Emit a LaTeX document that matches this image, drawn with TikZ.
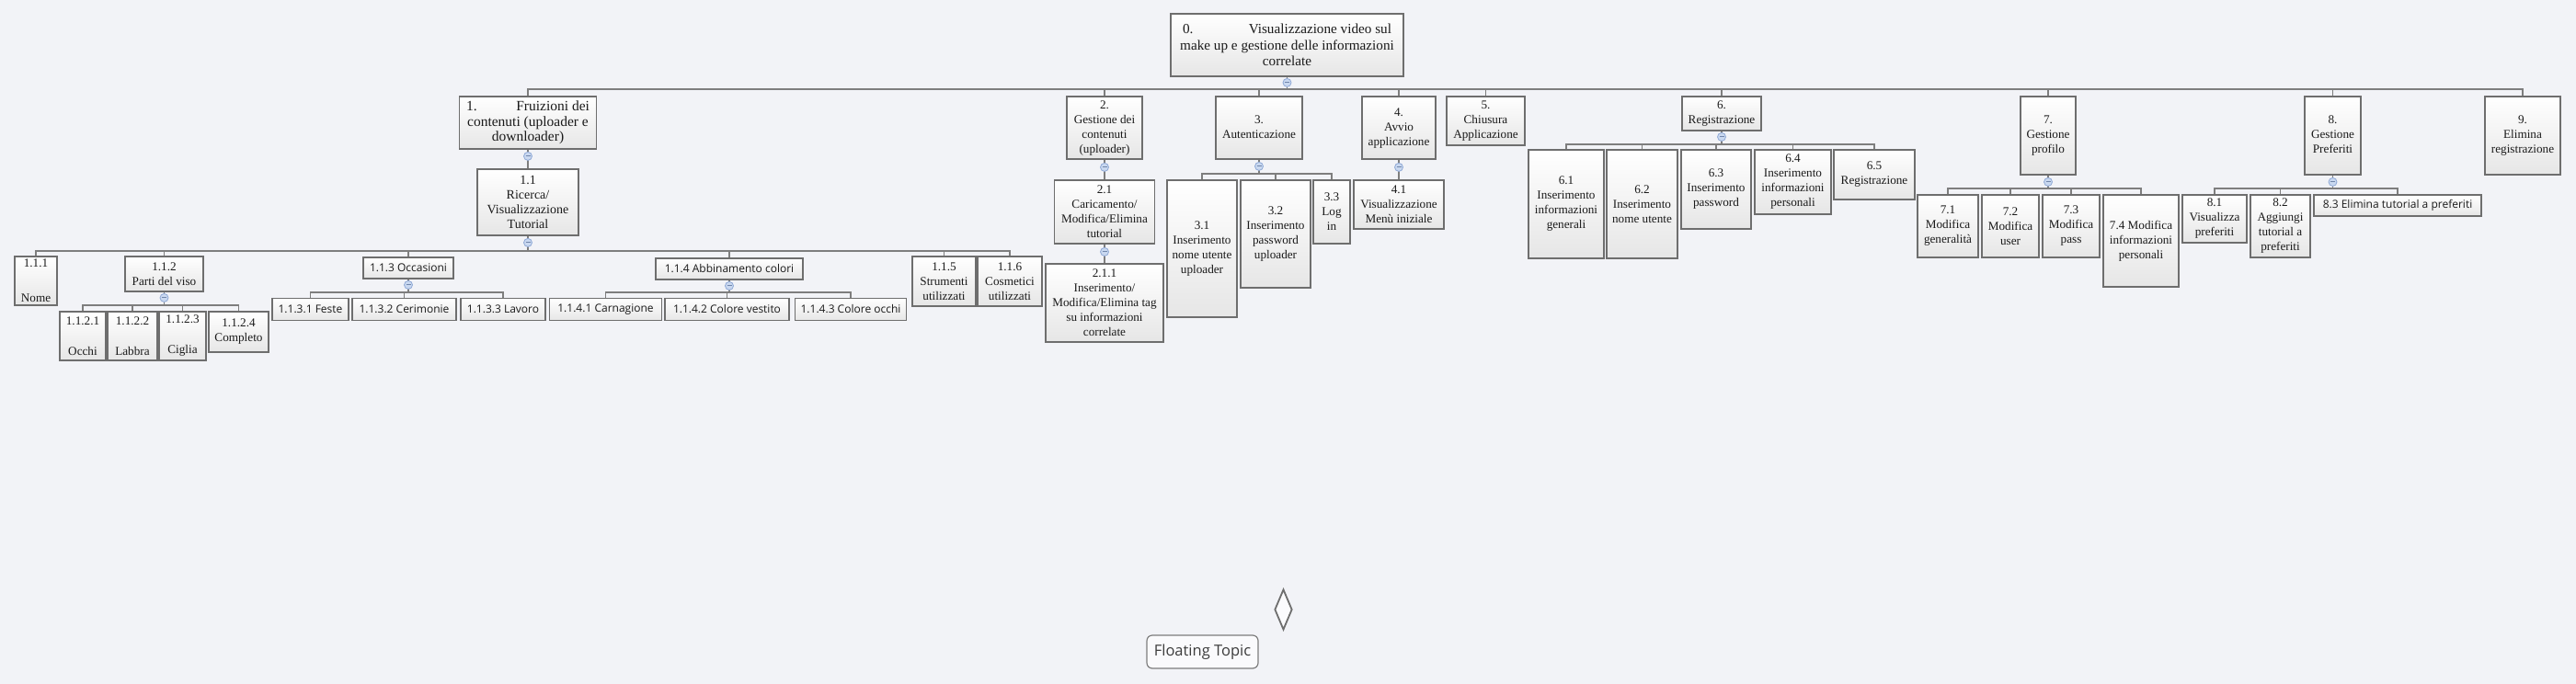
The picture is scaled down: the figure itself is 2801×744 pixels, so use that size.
\documentclass[tikz,border=0pt]{standalone}
\usepackage{fontspec}
\setmainfont{Liberation Serif}
\newfontfamily\sansf{Open Sans}
\usetikzlibrary{shapes.geometric}
\definecolor{bgc}{HTML}{F2F3F7}
\definecolor{bordc}{HTML}{6E6E6E}
\definecolor{connc}{HTML}{7E7E7E}
\definecolor{boxbot}{HTML}{E6E6E6}
\definecolor{txtc}{HTML}{1A1A1A}
\definecolor{btnfill}{HTML}{C9D8F0}
\definecolor{btndraw}{HTML}{8FA9D6}
\newcommand{\fstop}{\fontsize{15.2}{17.5}\selectfont}
\newcommand{\fsone}{\fontsize{15.5}{16.5}\selectfont}
\newcommand{\fsoo}{\fontsize{14}{16}\selectfont}
\newcommand{\fsm}{\fontsize{13.2}{16}\selectfont}
\newcommand{\fss}{\fontsize{12}{14}\selectfont\sansf}
\newcommand{\fsfl}{\fontsize{16.5}{18}\selectfont\sansf}
\newcommand{\dn}[2]{\raisebox{-#1}{\begin{tabular}{@{}c@{}}#2\end{tabular}}}
\newcommand{\colps}[2]{%
  \path (#1.south) ++(0,#2) coordinate (cb#1);
  \draw[btn] (cb#1) circle (4.5);
  \draw[btnminus] (cb#1) ++(-2.5,0) -- ++(5,0);}
\tikzset{
  box/.style={draw=bordc, line width=1.8pt, top color=white, bottom color=boxbot,
    align=center, inner sep=1pt, text=txtc, font=\fsm},
  sbox/.style={box, font=\fss},
  conn/.style={draw=connc, line width=1.8pt},
  btn/.style={draw=btndraw, fill=btnfill, line width=0.8pt},
  btnminus/.style={draw=btndraw!80!black, line width=0.9pt},
  floatbox/.style={draw=bordc!90, line width=1.2pt, fill=white!60!bgc, rounded corners=6pt,
    font=\fsfl, text=txtc!85, inner sep=0pt},
  dia/.style={diamond, draw=bordc, fill=white!70!bgc, line width=1.8pt, inner sep=0pt}
}
\begin{document}
\begin{tikzpicture}[x=1pt,y=-1pt]
\useasboundingbox (0,0) rectangle (2801,744);
\fill[bgc] (0,0) rectangle (2801,744);

% ---------- nodes ----------
\node[box, minimum width=253pt, minimum height=68pt, font=\fstop] (n0) at (1399.5,49)
  {\makebox[227pt]{0.\hfill Visualizzazione video sul}\\make up e gestione delle informazioni\\correlate};

\node[box, minimum width=149pt, minimum height=57pt, font=\fsone] (n1) at (574,133.5)
  {\makebox[134pt]{1.\hfill Fruizioni dei}\\contenuti (uploader e\\downloader)};
\node[box, minimum width=110pt, minimum height=72pt, font=\fsoo] (n11) at (574,220)
  {1.1\\Ricerca/\\Visualizzazione\\Tutorial};

\node[box, minimum width=46pt, minimum height=53pt] (n111) at (39,305.5) {1.1.1\\[22pt]Nome};
\node[box, minimum width=85pt, minimum height=38pt] (n112) at (178.5,298) {1.1.2\\Parti del viso};
\node[box, minimum width=50pt, minimum height=53pt] (n1121) at (90,365.5) {1.1.2.1\\[17pt]Occhi};
\node[box, minimum width=54pt, minimum height=53pt] (n1122) at (144,365.5) {1.1.2.2\\[17pt]Labbra};
\node[box, minimum width=51pt, minimum height=53pt] (n1123) at (198.5,365.5) {1.1.2.3\\[17pt]Ciglia};
\node[box, minimum width=65pt, minimum height=44pt] (n1124) at (259.5,361) {1.1.2.4\\Completo};

\node[sbox, minimum width=98pt, minimum height=23pt] (n113) at (444,291.5) {1.1.3 Occasioni};
\node[sbox, minimum width=83pt, minimum height=24pt] (n1131) at (337.5,336.5) {1.1.3.1 Feste};
\node[sbox, minimum width=113pt, minimum height=24pt] (n1132) at (439.5,336.5) {1.1.3.2 Cerimonie};
\node[sbox, minimum width=92pt, minimum height=24pt] (n1133) at (547,336.5) {1.1.3.3 Lavoro};

\node[sbox, minimum width=160pt, minimum height=23pt] (n114) at (793,292.5) {1.1.4 Abbinamento colori};
\node[sbox, minimum width=122pt, minimum height=24pt] (n1141) at (658.5,336.5) {1.1.4.1 Carnagione};
\node[sbox, minimum width=135pt, minimum height=24pt] (n1142) at (790.5,336.5) {1.1.4.2 Colore vestito};
\node[sbox, minimum width=121pt, minimum height=24pt] (n1143) at (925,336.5) {1.1.4.3 Colore occhi};

\node[box, minimum width=69pt, minimum height=54pt] (n115) at (1026.5,306) {1.1.5\\Strumenti\\utilizzati};
\node[box, minimum width=70pt, minimum height=54pt] (n116) at (1098,306) {1.1.6\\Cosmetici\\utilizzati};

\node[box, minimum width=82pt, minimum height=68pt] (n2) at (1201,139) {\dn{4pt}{2.\\Gestione dei\\contenuti\\(uploader)}};
\node[box, minimum width=109pt, minimum height=69pt] (n21) at (1201,230.5) {2.1\\Caricamento/\\Modifica/Elimina\\tutorial};
\node[box, minimum width=128pt, minimum height=85pt] (n211) at (1201,329.5)
  {2.1.1\\Inserimento/\\Modifica/Elimina tag\\su informazioni\\correlate};

\node[box, minimum width=94pt, minimum height=68pt] (n3) at (1369,139) {\dn{2pt}{3.\\Autenticazione}};
\node[box, minimum width=76pt, minimum height=149pt] (n31) at (1307,270.5) {\dn{5pt}{3.1\\Inserimento\\nome utente\\uploader}};
\node[box, minimum width=76pt, minimum height=117pt] (n32) at (1387,254.5) {3.2\\Inserimento\\password\\uploader};
\node[box, minimum width=40pt, minimum height=69pt] (n33) at (1448,230.5) {3.3\\Log\\in};

\node[box, minimum width=80pt, minimum height=68pt] (n4) at (1521,139) {\dn{9pt}{4.\\Avvio\\applicazione}};
\node[box, minimum width=98pt, minimum height=53pt] (n41) at (1521,222.5) {4.1\\Visualizzazione\\Menù iniziale};

\node[box, minimum width=85pt, minimum height=53pt] (n5) at (1615.5,131.5) {5.\\Chiusura\\Applicazione};

\node[box, minimum width=86pt, minimum height=37pt] (n6) at (1872,123.5) {6.\\Registrazione};
\node[box, minimum width=82pt, minimum height=118pt] (n61) at (1703,222) {6.1\\Inserimento\\informazioni\\generali};
\node[box, minimum width=77pt, minimum height=118pt] (n62) at (1785.5,222) {6.2\\Inserimento\\nome utente};
\node[box, minimum width=76pt, minimum height=86pt] (n63) at (1866,206) {6.3\\Inserimento\\password};
\node[box, minimum width=83pt, minimum height=70pt] (n64) at (1949.5,198) {6.4\\Inserimento\\informazioni\\personali};
\node[box, minimum width=88pt, minimum height=54pt] (n65) at (2038,190) {6.5\\Registrazione};

\node[box, minimum width=60pt, minimum height=85pt] (n7) at (2227,147.5) {7.\\Gestione\\profilo};
\node[box, minimum width=66pt, minimum height=68pt] (n71) at (2118,246) {7.1\\Modifica\\generalità};
\node[box, minimum width=62pt, minimum height=68pt] (n72) at (2186,246) {7.2\\Modifica\\user};
\node[box, minimum width=62pt, minimum height=68pt] (n73) at (2252,246) {7.3\\Modifica\\pass};
\node[box, minimum width=82pt, minimum height=100pt] (n74) at (2328,262) {7.4 Modifica\\informazioni\\personali};

\node[box, minimum width=61pt, minimum height=85pt] (n8) at (2536.5,147.5) {\dn{5pt}{8.\\Gestione\\Preferiti}};
\node[box, minimum width=70pt, minimum height=52pt] (n81) at (2408,238) {8.1\\Visualizza\\preferiti};
\node[box, minimum width=65pt, minimum height=68pt] (n82) at (2479.5,246) {8.2\\Aggiungi\\tutorial a\\preferiti};
\node[sbox, minimum width=182pt, minimum height=23pt] (n83) at (2607,223.5) {8.3 Elimina tutorial a preferiti};

\node[box, minimum width=82pt, minimum height=85pt] (n9) at (2743,147.5) {\dn{5pt}{9.\\Elimina\\registrazione}};

\node[floatbox, minimum width=121pt, minimum height=36pt] (fl) at (1307.5,709) {Floating Topic};
\node[dia, minimum width=19pt, minimum height=44pt] (dm) at (1395.5,663) {};

% ---------- connectors ----------
\foreach \c in {n1,n2,n3,n4,n5,n6,n7,n8,n9}
  \draw[conn] (n0.south) -- ++(0,13) -| (\c.north);
\draw[conn] (n1.south) -- (n11.north);
\foreach \c in {n111,n112,n113,n114,n115,n116}
  \draw[conn] (n11.south) -- ++(0,16) -| (\c.north);
\foreach \c in {n1121,n1122,n1123,n1124}
  \draw[conn] (n112.south) -- ++(0,14) -| (\c.north);
\foreach \c in {n1131,n1132,n1133}
  \draw[conn] (n113.south) -- ++(0,14) -| (\c.north);
\foreach \c in {n1141,n1142,n1143}
  \draw[conn] (n114.south) -- ++(0,13) -| (\c.north);
\draw[conn] (n2.south) -- (n21.north);
\draw[conn] (n21.south) -- (n211.north);
\foreach \c in {n31,n32,n33}
  \draw[conn] (n3.south) -- ++(0,15) -| (\c.north);
\draw[conn] (n4.south) -- (n41.north);
\foreach \c in {n61,n62,n63,n64,n65}
  \draw[conn] (n6.south) -- ++(0,14) -| (\c.north);
\foreach \c in {n71,n72,n73,n74}
  \draw[conn] (n7.south) -- ++(0,14) -| (\c.north);
\foreach \c in {n81,n82,n83}
  \draw[conn] (n8.south) -- ++(0,14) -| (\c.north);

% ---------- collapse buttons ----------
\colps{n0}{6}
\colps{n1}{7}
\colps{n11}{7}
\colps{n112}{6}
\colps{n113}{6}
\colps{n114}{6}
\colps{n2}{8}
\colps{n21}{8}
\colps{n3}{7}
\colps{n4}{8}
\colps{n6}{6}
\colps{n7}{7}
\colps{n8}{7}
\end{tikzpicture}
\end{document}
